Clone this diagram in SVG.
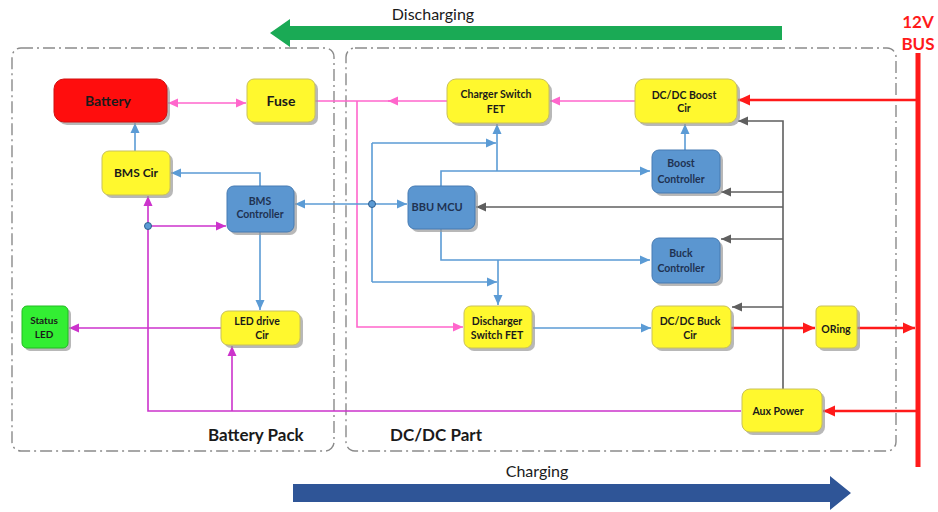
<svg xmlns="http://www.w3.org/2000/svg" width="938" height="512" viewBox="0 0 938 512">
  <style>
    .lbl { font-family: Lato, "Open Sans", "Liberation Sans", sans-serif; font-weight: bold; text-anchor: middle; fill: #1a1a1a; }
    .bl { fill: #1f3252; }
    .yel { fill: #fff82e; stroke: #c9c15a; stroke-width: 1; }
    .blu { fill: #5b96d0; stroke: #467bb3; stroke-width: 1; }
    .shd { fill: #9a9a9a; opacity: 0.7; }
    .zone { fill: none; stroke: #8a8a8a; stroke-width: 1.4; stroke-dasharray: 12 4 2 4; }
    .pink { fill: none; stroke: #ff66cc; stroke-width: 1.6; }
    .mag { fill: none; stroke: #cc33cc; stroke-width: 1.6; }
    .blue { fill: none; stroke: #5b9bd5; stroke-width: 1.6; }
    .gray { fill: none; stroke: #5f5f5f; stroke-width: 1.6; }
    .red { fill: none; stroke: #ff1a1a; stroke-width: 2.4; }
    .title { font-family: Lato, "Open Sans", "Liberation Sans", sans-serif; font-size: 16px; fill: #1a1a1a; text-anchor: middle; }
    .zlbl { font-family: Lato, "Open Sans", "Liberation Sans", sans-serif; font-size: 17px; font-weight: bold; fill: #1a1a1a; }
  </style>
  <defs>
    <marker id="aPink" markerUnits="userSpaceOnUse" markerWidth="12" markerHeight="12" refX="10" refY="6" orient="auto-start-reverse">
      <path d="M0,1.5 L10,6 L0,10.5 Z" fill="#ff66cc"/>
    </marker>
    <marker id="aMag" markerUnits="userSpaceOnUse" markerWidth="12" markerHeight="12" refX="10" refY="6" orient="auto">
      <path d="M0,1.5 L10,6 L0,10.5 Z" fill="#cc33cc"/>
    </marker>
    <marker id="aBlue" markerUnits="userSpaceOnUse" markerWidth="12" markerHeight="12" refX="10" refY="6" orient="auto">
      <path d="M0,1.5 L10,6 L0,10.5 Z" fill="#5b9bd5"/>
    </marker>
    <marker id="aGray" markerUnits="userSpaceOnUse" markerWidth="12" markerHeight="12" refX="10" refY="6" orient="auto">
      <path d="M0,1.5 L10,6 L0,10.5 Z" fill="#5f5f5f"/>
    </marker>
    <marker id="aRed" markerUnits="userSpaceOnUse" markerWidth="14" markerHeight="14" refX="12" refY="7" orient="auto">
      <path d="M0,1.5 L12,7 L0,12.5 Z" fill="#ff1a1a"/>
    </marker>
  </defs>

  <rect width="938" height="512" fill="#ffffff"/>

  <!-- flow direction arrows -->
  <g id="discharging">
    <polygon points="270,33 290,19 290,26 782,26 782,40 290,40 290,47" fill="#1aaa55"/>
    <text class="title" x="433" y="20">Discharging</text>
  </g>
  <g id="charging">
    <polygon points="851,493 830,476 830,484 293,484 293,502 830,502 830,510" fill="#2f5597"/>
    <text class="title" x="537" y="477">Charging</text>
  </g>

  <!-- zones -->
  <g id="battery-pack-zone">
    <rect class="zone" x="12" y="48" width="322" height="403" rx="9"/>
    <text class="zlbl" x="208" y="441">Battery Pack</text>
  </g>
  <g id="dcdc-zone">
    <rect class="zone" x="346" y="48" width="550" height="403" rx="9"/>
    <text class="zlbl" x="390" y="441">DC/DC Part</text>
  </g>

  <!-- 12V bus -->
  <g id="bus">
    <text x="918" y="28" font-family="Lato, 'Open Sans', 'Liberation Sans', sans-serif" font-size="17" font-weight="bold" fill="#ff1a1a" text-anchor="middle">12V</text>
    <text x="918" y="50" font-family="Lato, 'Open Sans', 'Liberation Sans', sans-serif" font-size="17" font-weight="bold" fill="#ff1a1a" text-anchor="middle">BUS</text>
    <line x1="918" y1="53" x2="918" y2="467" stroke="#ff1a1a" stroke-width="5"/>
  </g>

  <!-- connectors -->
  <g id="connectors">
    <!-- power path (pink) -->
    <path class="pink" d="M168,103 L246,103" marker-start="url(#aPink)" marker-end="url(#aPink)"/>
    <path class="pink" d="M635,101 L550,101" marker-end="url(#aPink)"/>
    <path class="pink" d="M447,101 L315,101"/>
    <path class="pink" d="M398,101 L388,101" marker-end="url(#aPink)"/>
    <path class="pink" d="M357,101 L357,327 L463,327" marker-end="url(#aPink)"/>

    <!-- control signals (magenta) -->
    <path class="mag" d="M741,411 L148,411 L148,196" marker-end="url(#aMag)"/>
    <path class="mag" d="M148,226 L226,226" marker-end="url(#aMag)"/>
    <path class="mag" d="M232,411 L232,346" marker-end="url(#aMag)"/>
    <path class="mag" d="M221,328 L69,328" marker-end="url(#aMag)"/>

    <!-- communication (blue) -->
    <path class="blue" d="M135,151 L135,123" marker-end="url(#aBlue)"/>
    <path class="blue" d="M260,186 L260,173 L171,173" marker-end="url(#aBlue)"/>
    <path class="blue" d="M260,232 L260,310" marker-end="url(#aBlue)"/>
    <path class="blue" d="M372,204 L295,204" marker-end="url(#aBlue)"/>
    <path class="blue" d="M372,204 L407,204" marker-end="url(#aBlue)"/>
    <path class="blue" d="M372,143 L372,282"/>
    <path class="blue" d="M372,143 L496,143" marker-end="url(#aBlue)"/>
    <path class="blue" d="M372,282 L497,282" marker-end="url(#aBlue)"/>
    <path class="blue" d="M441,186 L441,171 L650,171" marker-end="url(#aBlue)"/>
    <path class="blue" d="M497,171 L497,124" marker-end="url(#aBlue)"/>
    <path class="blue" d="M441,229 L441,260 L650,260" marker-end="url(#aBlue)"/>
    <path class="blue" d="M498,260 L498,305" marker-end="url(#aBlue)"/>
    <path class="blue" d="M533,328 L651,328" marker-end="url(#aBlue)"/>
    <path class="blue" d="M685,150 L685,124" marker-end="url(#aBlue)"/>
    <circle cx="372" cy="204" r="3.5" fill="#5b9bd5" stroke="#2f5f90" stroke-width="1"/>
    <circle cx="148" cy="226" r="3.5" fill="#5b9bd5" stroke="#2f5f90" stroke-width="1"/>

    <!-- auxiliary supply (gray) -->
    <path class="gray" d="M783,389 L783,121 L738,121" marker-end="url(#aGray)"/>
    <path class="gray" d="M783,192 L721,192" marker-end="url(#aGray)"/>
    <path class="gray" d="M783,207 L476,207" marker-end="url(#aGray)"/>
    <path class="gray" d="M783,239 L721,239" marker-end="url(#aGray)"/>
    <path class="gray" d="M783,307 L732,307" marker-end="url(#aGray)"/>

    <!-- bus power (red) -->
    <path class="red" d="M916,100 L738,100" marker-end="url(#aRed)"/>
    <path class="red" d="M731,328 L815,328" marker-end="url(#aRed)"/>
    <path class="red" d="M857,328 L915,328" marker-end="url(#aRed)"/>
    <path class="red" d="M916,411 L823,411" marker-end="url(#aRed)"/>
  </g>

  <!-- nodes -->
  <g id="battery">
    <rect class="shd" x="57" y="82" width="113" height="43" rx="10"/>
    <rect x="54" y="79" width="113" height="43" rx="10" fill="#ff0d0d" stroke="#d01010"/>
    <text class="lbl" x="108" y="106" font-size="14">Battery</text>
  </g>
  <g id="fuse">
    <rect class="shd" x="250" y="82" width="68" height="43" rx="7"/>
    <rect class="yel" x="247" y="79" width="68" height="43" rx="7"/>
    <text class="lbl" x="281" y="106" font-size="14">Fuse</text>
  </g>
  <g id="bms-cir">
    <rect class="shd" x="105" y="154" width="68" height="44" rx="7"/>
    <rect class="yel" x="102" y="151" width="68" height="44" rx="7"/>
    <text class="lbl" x="136" y="177" font-size="12">BMS Cir</text>
  </g>
  <g id="bms-controller">
    <rect class="shd" x="230" y="189" width="67" height="46" rx="7"/>
    <rect class="blu" x="227" y="186" width="67" height="46" rx="7"/>
    <text class="lbl bl" x="260" y="205" font-size="10.5">BMS</text>
    <text class="lbl bl" x="260" y="218" font-size="10.5">Controller</text>
  </g>
  <g id="status-led">
    <rect class="shd" x="25" y="309" width="46" height="42" rx="5"/>
    <rect x="22" y="306" width="46" height="42" rx="5" fill="#33ee33" stroke="#22bb22"/>
    <text class="lbl" x="44" y="324" font-size="10">Status</text>
    <text class="lbl" x="44" y="338" font-size="10">LED</text>
  </g>
  <g id="led-drive-cir">
    <rect class="shd" x="224" y="314" width="79" height="34" rx="7"/>
    <rect class="yel" x="221" y="311" width="79" height="34" rx="7"/>
    <text class="lbl" x="257" y="325" font-size="10.5">LED drive</text>
    <text class="lbl" x="262" y="339" font-size="10.5">Cir</text>
  </g>
  <g id="charger-switch-fet">
    <rect class="shd" x="450" y="82" width="102" height="44" rx="9"/>
    <rect class="yel" x="447" y="79" width="102" height="44" rx="9"/>
    <text class="lbl" x="496" y="98" font-size="10.5">Charger Switch</text>
    <text class="lbl" x="496" y="113" font-size="10.5">FET</text>
  </g>
  <g id="bbu-mcu">
    <rect class="shd" x="411" y="189" width="67" height="43" rx="7"/>
    <rect class="blu" x="408" y="186" width="67" height="43" rx="7"/>
    <text class="lbl bl" x="437" y="211" font-size="11">BBU MCU</text>
  </g>
  <g id="dcdc-boost-cir">
    <rect class="shd" x="638" y="82" width="102" height="44" rx="9"/>
    <rect class="yel" x="635" y="79" width="102" height="44" rx="9"/>
    <text class="lbl" x="684" y="99" font-size="10.5">DC/DC Boost</text>
    <text class="lbl" x="684" y="112" font-size="10.5">Cir</text>
  </g>
  <g id="boost-controller">
    <rect class="shd" x="655" y="153" width="68" height="43" rx="7"/>
    <rect class="blu" x="652" y="150" width="68" height="43" rx="7"/>
    <text class="lbl bl" x="681" y="167" font-size="10.5">Boost</text>
    <text class="lbl bl" x="681" y="183" font-size="10.5">Controller</text>
  </g>
  <g id="buck-controller">
    <rect class="shd" x="655" y="241" width="68" height="45" rx="7"/>
    <rect class="blu" x="652" y="238" width="68" height="45" rx="7"/>
    <text class="lbl bl" x="681" y="257" font-size="10.5">Buck</text>
    <text class="lbl bl" x="681" y="272" font-size="10.5">Controller</text>
  </g>
  <g id="discharger-switch-fet">
    <rect class="shd" x="467" y="309" width="68" height="42" rx="7"/>
    <rect class="yel" x="464" y="306" width="68" height="42" rx="7"/>
    <text class="lbl" x="497" y="325" font-size="10.5">Discharger</text>
    <text class="lbl" x="497" y="339" font-size="10.5">Switch FET</text>
  </g>
  <g id="dcdc-buck-cir">
    <rect class="shd" x="655" y="309" width="79" height="42" rx="7"/>
    <rect class="yel" x="652" y="306" width="79" height="42" rx="7"/>
    <text class="lbl" x="690" y="325" font-size="10.5">DC/DC Buck</text>
    <text class="lbl" x="690" y="339" font-size="10.5">Cir</text>
  </g>
  <g id="oring">
    <rect class="shd" x="819" y="309" width="41" height="42" rx="5"/>
    <rect class="yel" x="816" y="306" width="41" height="42" rx="5"/>
    <text class="lbl" x="836" y="333" font-size="10.5">ORing</text>
  </g>
  <g id="aux-power">
    <rect class="shd" x="745" y="392" width="80" height="43" rx="8"/>
    <rect class="yel" x="742" y="389" width="80" height="43" rx="8"/>
    <text class="lbl" x="778" y="415" font-size="10.5">Aux Power</text>
  </g>
</svg>
